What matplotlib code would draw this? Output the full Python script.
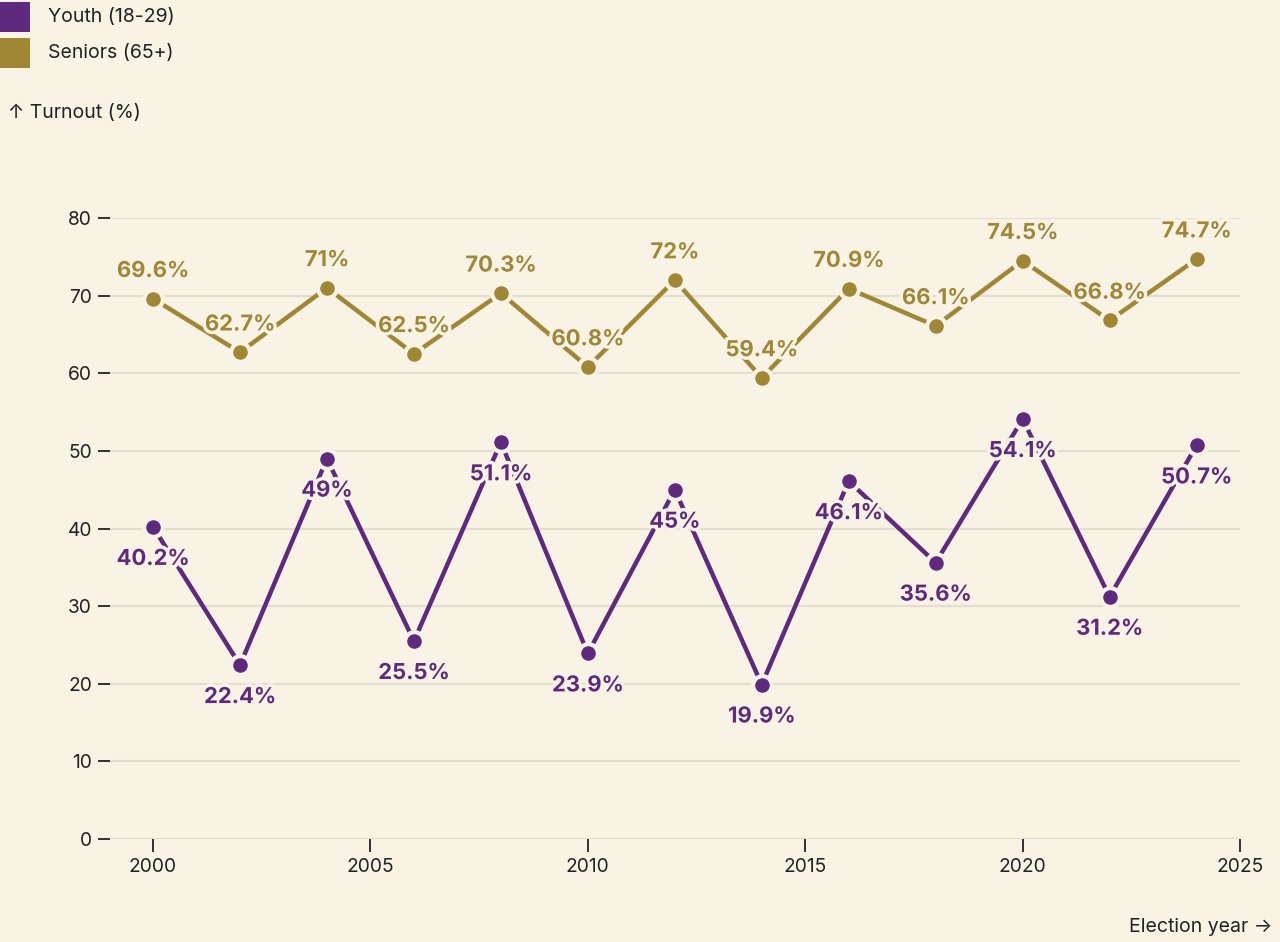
import matplotlib
matplotlib.use("Agg")
import matplotlib.pyplot as plt
import matplotlib.patheffects as pe

years = [2000, 2002, 2004, 2006, 2008, 2010, 2012, 2014, 2016, 2018, 2020, 2022, 2024]
youth = [40.2, 22.4, 49, 25.5, 51.1, 23.9, 45, 19.9, 46.1, 35.6, 54.1, 31.2, 50.7]
seniors = [69.6, 62.7, 71, 62.5, 70.3, 60.8, 72, 59.4, 70.9, 66.1, 74.5, 66.8, 74.7]
series_names = ["Youth (18-29)", "Seniors (65+)"]
x_ticks = [2000, 2005, 2010, 2015, 2020, 2025]
y_ticks = [0, 10, 20, 30, 40, 50, 60, 70, 80]

BG = "#f9f3e6"
PURPLE = "#5e2a7e"
GOLD = "#9f8735"
TXT = "#222222"
GRID = "#e2dfd1"

plt.rcParams['font.family'] = ['Inter', 'DejaVu Sans']

fig = plt.figure(figsize=(12.8, 9.42), dpi=100, facecolor=BG)
ax = fig.add_axes([110/1280, 1-839/942, (1240-110)/1280, (839-218)/942])
ax.set_facecolor(BG)
ax.set_xlim(1999.01, 2025)
ax.set_ylim(0, 80)
for s in ax.spines.values():
    s.set_visible(False)

ax.set_yticks(y_ticks)
ax.set_xticks(x_ticks)
ax.yaxis.grid(True, color=GRID, linewidth=1.6)
ax.set_axisbelow(True)
ax.tick_params(axis='y', length=9, width=1.3, color=TXT, labelsize=13.8, labelcolor=TXT, pad=4)
ax.tick_params(axis='x', length=9, width=1.3, color=TXT, labelsize=13.8, labelcolor=TXT, pad=5)

halo = [pe.withStroke(linewidth=5, foreground=BG)]

def draw(vals, color, above, z):
    ax.plot(years, vals, color=color, linewidth=3.2, zorder=z, clip_on=False,
            solid_capstyle='butt')
    ax.plot(years, vals, linestyle='none', marker='o', markersize=13.5,
            markerfacecolor=color, markeredgecolor=BG, markeredgewidth=3,
            zorder=z + 0.1, clip_on=False)
    for x, v in zip(years, vals):
        lab = f"{v:g}%"
        off = 20 if above else -23
        ax.annotate(lab, (x, v), xytext=(0, off), textcoords='offset points',
                    ha='center', va='center', fontsize=15.8, fontweight='bold',
                    color=color, zorder=z + 0.2, path_effects=halo,
                    annotation_clip=False)

draw(youth, PURPLE, False, 3)
draw(seniors, GOLD, True, 4)

# Legend
for i, (name, col) in enumerate(zip(series_names, [PURPLE, GOLD])):
    y0 = 2 + i * 36
    fig.patches.append(matplotlib.patches.Rectangle(
        (0, 1 - (y0 + 30) / 942), 30 / 1280, 30 / 942,
        transform=fig.transFigure, facecolor=col, edgecolor='none'))
    fig.text(48 / 1280, 1 - (y0 + 15) / 942, name, fontsize=14, color=TXT,
             ha='left', va='center')

fig.text(8 / 1280, 1 - 113 / 942, "↑ Turnout (%)", fontsize=14, color=TXT,
         ha='left', va='center')
fig.text(1272 / 1280, 1 - 927 / 942, "Election year →", fontsize=14, color=TXT,
         ha='right', va='center')

fig.savefig("out.png", dpi=100, facecolor=BG)
